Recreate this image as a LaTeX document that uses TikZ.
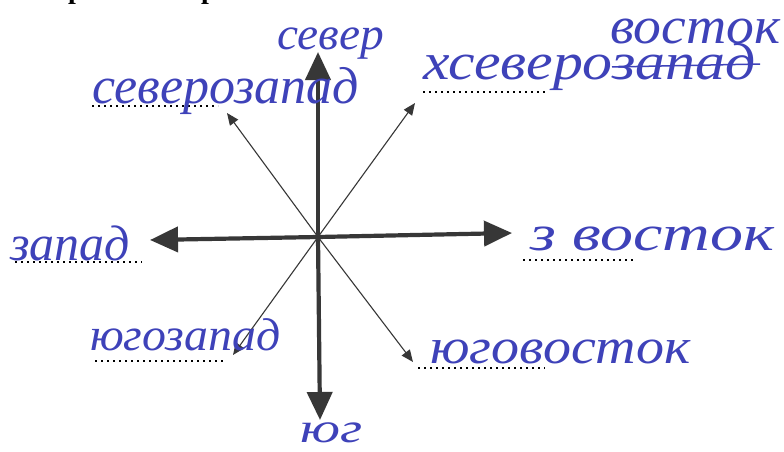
\documentclass[tikz,border=0pt]{standalone}
\usepackage{fontspec}
\usepackage{graphicx}
\usetikzlibrary{arrows.meta}
\newfontfamily\handfont{Liberation Serif}
\newfontfamily\headfont{Liberation Serif}
\definecolor{ink}{RGB}{62,66,185}
\definecolor{arrowgray}{RGB}{55,55,55}
\tikzset{
  bigarrow/.style={draw=arrowgray, line width=4.2pt, -{Triangle[length=28pt,width=25pt]}},
  smallarrow/.style={draw=arrowgray, line width=1.1pt, -{Triangle[length=12pt,width=10pt]}},
  dotline/.style={draw=black, line width=1.8pt, dash pattern=on 1.6pt off 4.4pt},
  hand/.style={text=ink, inner sep=0pt, anchor=base west},
  headtxt/.style={text=black, inner sep=0pt, anchor=base west, font=\headfont\bfseries\fontsize{28}{28}\selectfont},
}
\newcommand{\hw}[3]{\scalebox{#2}[1]{\handfont\itshape\fontsize{#1}{#1}\selectfont #3}}
\begin{document}
\begin{tikzpicture}[x=1pt,y=-1pt]
\useasboundingbox (0,0) rectangle (784,452);
\fill[white] (0,0) rectangle (784,452);
\clip (0,0) rectangle (784,452);
% cut-off heading
\node[headtxt] (h1) at (68,-1) {р};
\node[headtxt] (h2) at (201,-1.5) {р};
% compass
\coordinate (O) at (318,237);
\coordinate (N) at (318,52);
\coordinate (S) at (320,420);
\coordinate (W) at (150,240);
\coordinate (E) at (512,233);
\coordinate (NW) at (227,113);
\coordinate (NE) at (415,103);
\coordinate (SW) at (233,355);
\coordinate (SE) at (413,362);
\draw[smallarrow] (O) -- (NW);
\draw[smallarrow] (O) -- (NE);
\draw[smallarrow] (O) -- (SW);
\draw[smallarrow] (O) -- (SE);
\draw[bigarrow] (O) -- (N);
\draw[bigarrow] (O) -- (S);
\draw[bigarrow] (O) -- (W);
\draw[bigarrow] (O) -- (E);
% answer lines
\coordinate (dNWa) at (92,106); \coordinate (dNWb) at (218,106);
\coordinate (dNEa) at (423,92); \coordinate (dNEb) at (548,92);
\coordinate (dWa) at (15,262); \coordinate (dWb) at (142,262);
\coordinate (dEa) at (523,260); \coordinate (dEb) at (635,260);
\coordinate (dSWa) at (95,361); \coordinate (dSWb) at (223,361);
\coordinate (dSEa) at (418,368); \coordinate (dSEb) at (545,368);
\draw[dotline] (dNWa) -- (dNWb);
\draw[dotline] (dNEa) -- (dNEb);
\draw[dotline] (dWa) -- (dWb);
\draw[dotline] (dEa) -- (dEb);
\draw[dotline] (dSWa) -- (dSWb);
\draw[dotline] (dSEa) -- (dSEb);
% handwritten answers
\node[hand] (tN) at (277,50) {\hw{46}{1.03}{север}};
\node[hand] (tNW) at (92,103) {\hw{52}{1.0}{северозапад}};
\node[hand] (tNE) at (423,80) {\hw{52}{1.15}{хсеверозапад}};
\node[hand] (tNEfix) at (610,44) {\hw{52}{1.07}{восток}};
\coordinate (stA) at (612,67); \coordinate (stB) at (760,64);
\draw[ink, line width=1.5pt] (stA) -- (stB);
\node[hand] (tW) at (10,260) {\hw{50}{1.0}{запад}};
\node[hand] (tE) at (530,250) {\hw{50}{1.32}{з восток}};
\node[hand] (tSW) at (90,350) {\hw{46}{1.04}{югозапад}};
\node[hand] (tSE) at (430,363) {\hw{50}{1.12}{юговосток}};
\node[hand] (tS) at (300,442) {\hw{42}{1.35}{юг}};
\end{tikzpicture}
\end{document}
